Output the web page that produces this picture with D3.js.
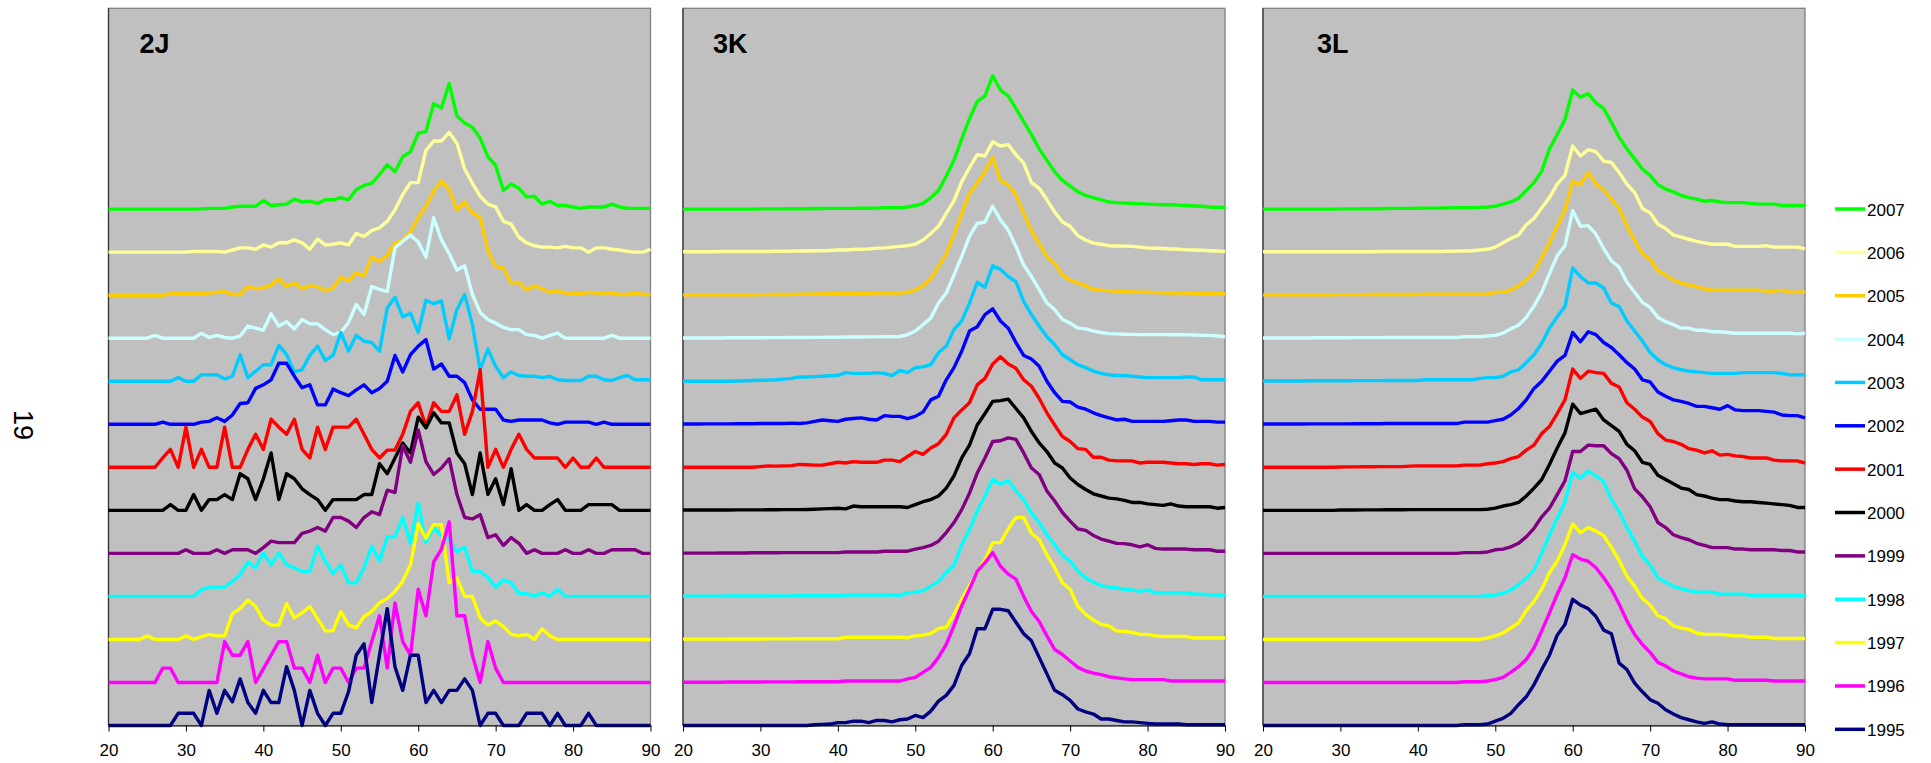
<!DOCTYPE html>
<html><head><meta charset="utf-8">
<script src="https://cdn.jsdelivr.net/npm/d3@7"></script>
<style>
html,body{margin:0;padding:0;background:#fff;}
svg{display:block;font-family:"Liberation Sans",Arial,sans-serif;}
</style></head>
<body><svg id="chart" width="1931" height="763"></svg>
<script>
const lengths = [20,21,22,23,24,25,26,27,28,29,30,31,32,33,34,35,36,37,38,39,40,41,42,43,44,45,46,47,48,49,50,51,52,53,54,55,56,57,58,59,60,61,62,63,64,65,66,67,68,69,70,71,72,73,74,75,76,77,78,79,80,81,82,83,84,85,86,87,88,89,90];
const years = [2007,2006,2005,2004,2003,2002,2001,2000,1999,1998,1997,1996,1995];
const colors = ["#00FF00","#FFFF99","#FFCC00","#CCFFFF","#00CCFF","#0000FF","#FF0000","#000000","#800080","#00FFFF","#FFFF00","#FF00FF","#000080"];
const panelNames = ["2J","3K","3L"];
const xTicks = [20,30,40,50,60,70,80,90];
const pageLabel = "19";

// Panel 2J: one row per year, 2007 first ... 1995 last (values at lengths 20..90)
const series2J = [
[0,0,0,0,0,0,0,0,0,0,0,0,0.02,0.05,0.05,0.05,0.15,0.2,0.2,0.2,0.6,0.25,0.3,0.35,0.7,0.5,0.55,0.4,0.65,0.65,0.8,0.65,1.35,1.65,1.8,2.4,3.1,2.6,3.65,4.0,5.3,5.4,7.35,7.05,8.75,6.5,6.0,5.7,4.95,3.65,3.05,1.3,1.75,1.45,0.85,0.9,0.35,0.55,0.25,0.25,0.15,0.05,0.15,0.15,0.15,0.35,0.15,0.05,0.05,0.05,0.05],
[0,0,0,0,0,0,0,0,0,0,0,0.05,0.05,0.05,0.05,0,0.15,0.3,0.3,0.2,0.5,0.35,0.65,0.65,0.85,0.65,0.2,0.9,0.5,0.55,0.65,0.5,1.3,1.1,1.5,1.7,2.15,2.95,4.0,4.85,4.85,7.1,7.75,7.75,8.35,7.6,5.8,4.8,3.9,3.35,3.15,2.15,1.95,1.05,0.65,0.45,0.35,0.35,0.3,0.4,0.3,0.3,0,0.3,0.3,0.2,0.15,0.05,0,0,0.2],
[0,0,0,0,0,0,0,0,0.1,0.1,0.1,0.1,0.1,0.15,0.2,0.25,0.05,0.05,0.6,0.45,0.5,0.7,1.15,0.6,0.85,0.45,0.65,0.6,0.3,0.5,1.25,1.0,1.55,1.35,2.65,2.35,2.75,3.65,3.8,4.4,5.4,6.2,7.25,7.95,7.35,5.95,6.5,5.75,5.4,3.1,2.0,1.9,0.85,0.9,0.35,0.65,0.45,0.2,0.3,0.15,0.15,0.1,0.2,0.15,0.15,0.15,0.05,0.05,0.15,0.05,0.05],
[0,0,0,0,0,0,0.2,0,0,0,0,0,0.35,0.05,0.2,0.05,0,0.15,0.85,0.7,0.55,1.7,0.85,1.15,0.65,1.3,1.0,1.0,0.6,0.25,0.4,1.1,2.35,1.65,3.6,3.4,3.25,6.3,6.75,7.2,6.7,5.65,8.4,6.85,5.9,4.75,5.05,3.05,1.8,1.3,1.05,0.75,0.6,0.6,0.25,0.2,0,0.2,0.35,0,0,0,0,0,0,0.2,0,0,0,0,0],
[0,0,0,0,0,0,0,0,0,0.25,0,0,0.45,0.45,0.45,0.15,0.35,1.85,0.25,0.7,1.15,1.15,2.5,1.85,0.65,0.8,1.8,2.45,1.45,1.8,3.4,2.1,3.2,2.8,2.7,2.1,5.1,5.85,4.5,4.75,3.4,5.65,5.4,5.6,2.95,5.0,6.05,3.95,0.8,2.25,1.05,0.25,0.65,0.4,0.35,0.35,0.25,0.35,0.1,0.05,0.05,0.05,0.35,0.35,0.1,0.05,0.25,0.4,0.1,0.1,0.1],
[0,0,0,0,0,0,0,0.15,0,0,0,0,0.15,0.2,0.45,0.2,0.65,1.45,1.5,2.5,2.75,3.1,4.25,4.25,3.35,2.55,2.75,1.35,1.35,2.45,2.2,2.0,2.4,2.75,2.2,2.5,3.0,4.8,3.65,4.85,5.45,5.9,3.85,4.2,3.35,3.35,2.9,1.7,1.05,1.05,1.05,0.3,0.2,0.3,0.3,0.3,0.3,0.1,0,0.15,0.15,0.15,0.15,0,0.15,0,0,0,0,0,0],
[0,0,0,0,0,0,0,0.65,1.25,0,2.8,0,1.25,0,0,2.8,0,0,1.25,2.3,1.25,3.35,2.8,2.3,3.35,1.25,0.65,2.8,1.25,2.8,2.8,2.8,3.35,2.3,1.25,0.65,1.2,1.2,2.3,3.9,4.5,2.85,4.5,3.9,3.9,5.05,2.3,3.9,6.8,0,1.25,0,1.25,2.3,1.25,0.65,0.65,0.65,0.65,0,0.65,0,0,0.65,0,0,0,0,0,0,0],
[0,0,0,0,0,0,0,0,0.4,0,0,1.1,0,0.75,0.75,1.1,0.75,2.55,2.2,0.75,2.2,4.0,0.75,2.55,2.2,1.5,1.1,0.75,0,0.75,0.75,0.75,0.75,1.1,1.1,3.25,2.55,3.65,4.7,4.0,6.5,5.75,6.8,6.1,6.1,4.0,3.25,1.1,4.0,1.1,2.2,0.4,2.9,0,0.4,0,0,0.4,0.75,0,0,0,0.4,0.4,0.4,0.4,0,0,0,0,0],
[0,0,0,0,0,0,0,0,0,0,0.25,0,0,0,0.25,0,0.25,0.25,0.25,0,0.4,0.85,0.75,0.75,0.75,1.4,1.55,1.8,1.55,2.5,2.5,2.25,1.8,2.5,2.9,2.7,4.4,4.25,7.5,6.35,8.6,6.4,5.5,5.95,6.6,4.1,2.5,2.4,2.7,1.1,1.3,0.55,1.1,0.7,0,0.25,0,0,0,0.25,0,0,0.25,0,0,0.25,0.25,0.25,0.25,0,0],
[0,0,0,0,0,0,0,0,0,0,0,0,0.45,0.65,0.65,0.65,1.05,1.5,2.4,2.0,3.05,2.2,3.05,2.2,2.0,1.75,1.75,3.5,2.45,1.6,2.2,0.95,0.95,2.0,3.5,2.45,4.15,4.15,5.5,3.7,6.5,3.75,4.8,4.25,4.0,3.1,3.45,1.75,1.75,1.3,0.65,1.15,0.95,0.2,0.2,0,0.25,0,0.5,0,0,0,0,0,0,0,0,0,0,0,0],
[0,0,0,0,0,0.25,0,0,0,0,0.25,0,0.2,0.35,0.25,0.25,1.8,2.15,2.75,2.3,1.35,1.0,1.0,2.5,1.5,1.85,2.3,1.45,0.6,0.6,1.95,1.0,0.8,1.6,1.95,2.55,2.85,3.35,4.05,5.2,8.05,7.05,8.0,8.0,3.95,4.3,3.0,3.0,1.5,1.0,1.3,0.9,0.35,0.25,0.35,0,0.75,0.25,0,0,0,0,0,0,0,0,0,0,0,0,0],
[0,0,0,0,0,0,0,1.0,1.0,0,0,0,0,0,0,2.85,1.9,1.9,2.85,0,0.95,1.9,2.85,2.85,1.0,1.0,0,1.9,0,1.0,1.0,0,1.0,1.0,2.85,4.65,1.0,5.55,2.85,1.9,6.5,4.65,8.4,9.3,11.2,4.65,4.65,1.9,0,2.85,1.0,0,0,0,0,0,0,0,0,0,0,0,0,0,0,0,0,0,0,0,0],
[0,0,0,0,0,0,0,0,0,0.85,0.85,0.85,0,2.45,0.85,2.45,1.65,3.25,1.6,0.85,2.45,1.6,1.6,4.1,2.45,0,2.45,0.85,0,0.85,0.85,2.35,4.9,5.7,1.6,4.9,8.15,4.1,2.45,4.9,4.9,1.6,2.45,1.6,2.45,2.45,3.25,2.45,0,0.85,0.85,0,0,0,0.85,0.85,0.85,0,0.85,0,0,0,0.85,0,0,0,0,0,0,0,0]
];

// Panel 3K
const series3K = [
[0,0,0,0,0,0,0,0,0,0,0.02,0.02,0.02,0.02,0.03,0.03,0.03,0.04,0.04,0.05,0.05,0.05,0.05,0.06,0.06,0.07,0.1,0.1,0.1,0.15,0.25,0.4,0.8,1.3,2.3,3.4,4.9,6.3,7.5,7.9,9.3,8.3,7.9,7.0,6.1,5.2,4.2,3.4,2.6,2.0,1.6,1.2,0.95,0.8,0.65,0.5,0.45,0.42,0.4,0.38,0.35,0.33,0.3,0.3,0.28,0.25,0.22,0.2,0.15,0.12,0.12],
[0.03,0.03,0.03,0.03,0.03,0.04,0.04,0.04,0.05,0.05,0.05,0.05,0.06,0.06,0.07,0.08,0.08,0.1,0.1,0.12,0.15,0.15,0.18,0.2,0.22,0.28,0.3,0.35,0.4,0.45,0.55,0.85,1.3,1.8,2.7,3.6,4.9,5.9,6.8,6.7,7.7,7.4,7.5,6.8,6.2,4.85,4.45,3.65,2.8,2.1,1.8,1.15,0.85,0.63,0.55,0.45,0.43,0.42,0.4,0.35,0.28,0.27,0.25,0.22,0.2,0.16,0.15,0.13,0.1,0.08,0.05],
[0.02,0.02,0.02,0.02,0.02,0.03,0.03,0.03,0.03,0.03,0.04,0.04,0.05,0.05,0.05,0.06,0.07,0.08,0.08,0.1,0.1,0.12,0.12,0.12,0.13,0.15,0.15,0.15,0.15,0.2,0.35,0.65,1.15,2.0,2.9,4.2,5.7,7.1,7.8,8.6,9.6,8.0,7.7,7.0,5.7,4.5,3.6,2.7,2.2,1.4,1.05,0.85,0.65,0.4,0.35,0.3,0.28,0.25,0.22,0.2,0.2,0.18,0.17,0.15,0.15,0.14,0.13,0.12,0.12,0.1,0.1],
[0.02,0.02,0.02,0.02,0.02,0.02,0.03,0.03,0.03,0.03,0.03,0.04,0.04,0.04,0.05,0.05,0.05,0.06,0.06,0.07,0.07,0.08,0.08,0.08,0.09,0.09,0.1,0.1,0.12,0.25,0.5,0.95,1.4,2.45,3.15,4.4,5.7,7.1,8.0,8.1,9.2,8.25,7.55,6.4,5.1,4.3,3.4,2.45,2.0,1.3,1.05,0.7,0.65,0.5,0.4,0.32,0.3,0.28,0.27,0.25,0.25,0.25,0.25,0.24,0.24,0.25,0.22,0.2,0.2,0.15,0.1],
[0,0,0,0,0,0,0,0.02,0.03,0.05,0.07,0.08,0.1,0.15,0.2,0.3,0.3,0.32,0.35,0.38,0.4,0.6,0.55,0.55,0.55,0.6,0.55,0.4,0.75,0.6,0.95,1.0,1.15,2.0,2.45,3.6,4.2,5.45,6.9,6.55,8.05,7.8,7.3,6.95,5.55,4.65,3.85,3.1,2.55,1.85,1.5,1.15,0.95,0.7,0.55,0.45,0.4,0.4,0.35,0.3,0.25,0.25,0.25,0.25,0.25,0.3,0.3,0.1,0.1,0.1,0.1],
[0.02,0.02,0.02,0.03,0.03,0.03,0.03,0.04,0.04,0.04,0.05,0.05,0.05,0.05,0.08,0.05,0.1,0.2,0.3,0.25,0.2,0.35,0.4,0.45,0.35,0.3,0.6,0.55,0.55,0.4,0.55,0.85,1.7,1.95,3.1,3.95,5.1,6.5,6.8,7.65,8.05,7.2,6.7,5.7,4.8,4.55,4.05,3.0,2.2,1.6,1.55,1.2,1.05,0.8,0.6,0.45,0.3,0.35,0.2,0.2,0.2,0.2,0.2,0.25,0.3,0.3,0.2,0.2,0.2,0.15,0.15],
[0,0,0,0,0,0,0,0,0,0,0.05,0.1,0.08,0.1,0.12,0.2,0.18,0.15,0.15,0.25,0.35,0.3,0.4,0.35,0.35,0.35,0.5,0.5,0.4,0.75,1.1,0.9,1.35,1.65,2.3,3.45,4.0,4.5,5.75,6.2,7.2,7.7,7.2,6.9,6.1,5.65,4.8,3.8,2.95,2.15,1.8,1.3,1.25,0.7,0.7,0.5,0.45,0.45,0.45,0.3,0.35,0.35,0.35,0.3,0.25,0.25,0.2,0.25,0.25,0.15,0.2],
[0.02,0.02,0.02,0.02,0.02,0.02,0.02,0.03,0.03,0.03,0.03,0.04,0.04,0.05,0.05,0.05,0.06,0.08,0.1,0.12,0.15,0.1,0.3,0.25,0.25,0.25,0.25,0.25,0.25,0.2,0.4,0.6,0.75,1.0,1.55,2.4,3.65,4.55,5.95,6.75,7.6,7.65,7.75,7.1,6.45,5.5,4.7,4.1,3.3,2.95,2.25,1.8,1.45,1.15,1.0,0.85,0.8,0.7,0.55,0.55,0.45,0.4,0.35,0.45,0.3,0.25,0.25,0.25,0.25,0.15,0.2],
[0.02,0.02,0.02,0.02,0.02,0.03,0.03,0.03,0.03,0.04,0.04,0.04,0.04,0.05,0.05,0.05,0.05,0.05,0.05,0.05,0.05,0.1,0.1,0.1,0.1,0.1,0.15,0.15,0.15,0.15,0.3,0.4,0.55,0.85,1.45,2.15,3.05,4.2,5.6,6.65,7.8,7.85,8.05,7.95,7.0,5.95,5.5,4.35,3.65,2.85,2.25,1.7,1.6,1.25,1.0,0.85,0.7,0.68,0.6,0.45,0.6,0.35,0.3,0.3,0.3,0.3,0.25,0.25,0.25,0.15,0.15],
[0.02,0.02,0.02,0.02,0.02,0.02,0.03,0.03,0.03,0.03,0.03,0.04,0.04,0.04,0.04,0.05,0.05,0.05,0.05,0.05,0.05,0.1,0.1,0.1,0.1,0.1,0.1,0.1,0.08,0.25,0.3,0.4,0.7,1.05,1.65,2.2,3.6,4.65,5.95,7.0,8.15,7.8,8.1,7.35,6.75,5.8,5.15,4.3,3.6,2.85,2.45,1.75,1.3,1.0,0.75,0.65,0.6,0.5,0.45,0.35,0.45,0.25,0.25,0.25,0.25,0.25,0.15,0.15,0.12,0.1,0.1],
[0.02,0.02,0.02,0.02,0.02,0.02,0.03,0.03,0.03,0.03,0.03,0.04,0.04,0.04,0.04,0.05,0.05,0.05,0.05,0.05,0.05,0.15,0.15,0.15,0.15,0.15,0.15,0.15,0.15,0.12,0.25,0.3,0.4,0.75,0.85,1.75,2.8,3.75,4.65,5.55,6.75,6.75,7.7,8.5,8.5,7.4,6.95,5.9,5.0,3.95,3.5,2.3,1.75,1.35,1.05,0.95,0.6,0.55,0.5,0.35,0.35,0.25,0.2,0.2,0.2,0.2,0.1,0.1,0.1,0.1,0.1],
[0.02,0.02,0.02,0.02,0.02,0.02,0.03,0.03,0.03,0.03,0.03,0.04,0.04,0.04,0.04,0.05,0.05,0.05,0.05,0.05,0.05,0.1,0.1,0.1,0.1,0.1,0.1,0.1,0.1,0.25,0.35,0.7,1.05,1.75,2.65,3.95,5.35,6.5,7.75,8.35,9.05,8.1,7.55,7.2,6.0,4.95,4.25,3.25,2.3,1.95,1.5,1.05,0.8,0.65,0.55,0.4,0.32,0.25,0.2,0.2,0.2,0.2,0.2,0.1,0.1,0.1,0.1,0.1,0.1,0.1,0.1],
[0,0,0,0,0,0,0,0,0,0,0,0,0,0,0,0,0,0.05,0.08,0.1,0.2,0.2,0.3,0.3,0.2,0.35,0.35,0.25,0.4,0.45,0.7,0.55,1.0,1.7,2.1,2.8,4.2,5.0,6.75,6.75,8.1,8.1,8.0,7.2,6.4,5.9,4.75,3.6,2.45,2.15,1.75,1.15,0.95,0.8,0.45,0.45,0.35,0.25,0.25,0.2,0.15,0.1,0.1,0.1,0.1,0.05,0.05,0.05,0.05,0.05,0.05]
];

// Panel 3L
const series3L = [
[0,0,0,0,0,0,0,0,0,0,0.02,0.02,0.02,0.03,0.03,0.03,0.04,0.05,0.05,0.05,0.06,0.07,0.07,0.08,0.08,0.1,0.1,0.1,0.12,0.15,0.2,0.35,0.5,0.75,1.3,1.85,2.65,4.2,5.2,6.25,8.3,7.8,8.05,7.4,7.0,6.05,5.0,4.2,3.5,2.8,2.35,1.7,1.4,1.2,0.95,0.8,0.7,0.55,0.6,0.5,0.45,0.45,0.45,0.4,0.35,0.35,0.35,0.25,0.25,0.25,0.25],
[0.03,0.03,0.03,0.03,0.03,0.03,0.03,0.03,0.03,0.03,0.03,0.03,0.03,0.03,0.03,0.04,0.04,0.04,0.04,0.05,0.05,0.05,0.05,0.05,0.06,0.07,0.08,0.1,0.15,0.2,0.35,0.65,0.95,1.2,1.9,2.35,3.1,3.8,4.75,5.35,7.4,6.7,7.15,7.0,6.35,6.25,5.55,4.75,4.15,3.05,2.75,1.95,1.65,1.2,1.05,0.9,0.75,0.65,0.55,0.55,0.55,0.4,0.4,0.4,0.4,0.45,0.35,0.35,0.35,0.35,0.25],
[0.02,0.02,0.02,0.02,0.02,0.03,0.03,0.03,0.03,0.03,0.04,0.04,0.04,0.04,0.05,0.05,0.05,0.05,0.05,0.05,0.05,0.07,0.07,0.07,0.07,0.07,0.07,0.07,0.07,0.07,0.2,0.2,0.35,0.65,1.05,1.6,2.6,3.65,4.8,5.95,7.95,7.7,8.55,7.75,7.35,6.7,6.05,4.85,3.8,2.9,2.5,1.7,1.4,1.05,0.85,0.7,0.6,0.45,0.35,0.35,0.35,0.35,0.35,0.35,0.35,0.28,0.28,0.35,0.2,0.2,0.2],
[0.02,0.02,0.02,0.02,0.02,0.02,0.02,0.03,0.03,0.03,0.03,0.03,0.04,0.04,0.04,0.04,0.05,0.05,0.05,0.05,0.05,0.05,0.05,0.05,0.05,0.05,0.1,0.1,0.1,0.15,0.2,0.35,0.65,0.9,1.45,2.25,3.2,4.5,5.75,6.45,8.9,7.8,7.85,7.25,6.25,5.4,4.95,3.9,3.2,2.5,2.15,1.45,1.15,0.95,0.7,0.7,0.55,0.55,0.45,0.45,0.4,0.35,0.35,0.35,0.35,0.35,0.35,0.35,0.35,0.3,0.35],
[0.02,0.02,0.02,0.02,0.02,0.02,0.03,0.03,0.03,0.03,0.03,0.03,0.04,0.04,0.04,0.04,0.05,0.05,0.05,0.05,0.05,0.1,0.1,0.1,0.1,0.1,0.1,0.1,0.2,0.25,0.25,0.35,0.65,0.8,1.3,1.85,2.65,3.7,4.5,5.2,7.9,7.3,6.85,6.85,6.5,5.45,5.2,4.2,3.5,2.8,2.0,1.5,1.15,0.95,0.8,0.7,0.65,0.6,0.55,0.55,0.55,0.55,0.6,0.6,0.6,0.6,0.6,0.55,0.45,0.45,0.45],
[0.02,0.02,0.02,0.02,0.02,0.02,0.03,0.03,0.03,0.03,0.03,0.03,0.04,0.04,0.04,0.04,0.05,0.05,0.05,0.05,0.05,0.05,0.05,0.05,0.05,0.05,0.15,0.15,0.15,0.15,0.25,0.35,0.65,1.1,1.7,2.5,3.0,3.7,4.4,4.8,6.4,5.75,6.45,6.25,5.7,5.35,4.85,4.3,3.85,3.1,2.95,2.25,1.95,1.7,1.6,1.45,1.25,1.25,1.15,1.05,1.3,1.0,0.95,0.95,0.95,0.9,0.85,0.65,0.6,0.6,0.45],
[0,0,0,0,0,0,0,0,0,0,0.02,0.03,0.03,0.04,0.04,0.05,0.05,0.05,0.05,0.08,0.1,0.1,0.1,0.1,0.1,0.1,0.15,0.15,0.15,0.25,0.3,0.4,0.6,0.75,1.2,1.55,2.35,2.85,3.75,4.7,6.85,6.2,6.7,6.6,6.55,5.85,5.6,4.5,4.05,3.5,3.2,2.35,1.9,1.8,1.6,1.3,1.2,1.0,1.15,0.85,0.9,0.8,0.75,0.65,0.65,0.65,0.5,0.45,0.45,0.45,0.3],
[0,0,0,0,0,0,0,0,0,0,0.02,0.02,0.02,0.03,0.03,0.03,0.04,0.04,0.04,0.05,0.05,0.05,0.05,0.05,0.05,0.05,0.05,0.05,0.05,0.08,0.15,0.3,0.4,0.55,1.0,1.55,2.15,3.2,4.35,5.4,7.4,6.75,6.9,7.05,6.3,5.9,5.5,4.6,4.15,3.35,3.2,2.45,2.15,1.85,1.55,1.45,1.1,1.0,0.85,0.75,0.75,0.65,0.6,0.6,0.55,0.5,0.45,0.4,0.35,0.2,0.2],
[0,0,0,0,0,0,0,0,0,0,0,0,0,0,0,0,0,0,0,0,0,0,0,0,0,0,0.05,0.05,0.05,0.1,0.25,0.3,0.45,0.7,1.15,1.75,2.55,3.15,4.1,5.05,7.1,7.1,7.55,7.5,7.5,6.95,6.6,5.8,4.5,3.95,3.25,2.15,1.8,1.3,1.1,0.95,0.7,0.55,0.4,0.4,0.4,0.3,0.3,0.25,0.25,0.25,0.25,0.2,0.2,0.1,0.1],
[0,0,0,0,0,0,0,0,0,0,0,0,0,0,0,0,0,0,0,0,0,0,0,0,0,0,0,0,0,0.05,0.1,0.2,0.45,0.8,1.25,1.85,3.0,4.3,5.45,6.6,8.65,8.25,8.75,8.4,8.0,6.75,5.9,4.8,3.85,2.8,2.2,1.3,1.0,0.7,0.55,0.4,0.3,0.3,0.3,0.15,0.15,0.15,0.15,0.08,0.08,0.08,0.08,0.08,0.08,0.08,0.08],
[0,0,0,0,0,0,0,0,0,0,0,0,0,0,0,0,0,0,0,0,0,0,0,0,0,0,0,0,0,0.1,0.25,0.45,0.8,1.15,2.0,2.65,3.5,4.65,5.45,6.6,8.05,7.45,7.8,7.55,7.25,6.4,5.5,4.4,3.7,2.85,2.4,1.65,1.45,0.95,0.8,0.7,0.45,0.35,0.35,0.35,0.3,0.25,0.25,0.15,0.15,0.15,0.07,0.07,0.07,0.07,0.07],
[0,0,0,0,0,0,0,0,0,0,0,0,0,0,0,0,0,0,0,0,0,0,0,0,0,0,0.05,0.05,0.05,0.1,0.2,0.35,0.7,1.1,1.6,2.4,3.6,4.85,6.15,7.3,8.9,8.6,8.45,8.0,7.3,6.5,5.45,4.3,3.35,2.65,2.1,1.4,1.15,0.8,0.6,0.4,0.3,0.25,0.25,0.25,0.25,0.15,0.15,0.15,0.15,0.15,0.1,0.1,0.1,0.1,0.1],
[0,0,0,0,0,0,0,0,0,0,0,0,0,0,0,0,0,0,0,0,0,0,0,0,0,0,0.05,0.05,0.05,0.1,0.3,0.5,0.85,1.45,2.0,2.85,3.9,4.9,6.3,7.05,8.8,8.4,8.15,7.6,6.65,6.4,4.35,3.9,2.95,2.35,1.8,1.55,1.1,0.8,0.55,0.4,0.25,0.15,0.25,0.1,0.05,0.05,0.05,0.05,0.05,0.05,0.05,0.05,0.05,0.05,0.05]
];

const panelSeries = [series2J, series3K, series3L];

// ---- layout ----
const svg = d3.select("#chart");
const plotTop = 8.3, plotBottom = 725.5, plotW = 542;
const panelX = [108.5, 683, 1263];
const labelDx = [31, 30, 54];
const yearStep = 3;               // vertical offset (in value units) between years
const yMax = 50;

const y = d3.scaleLinear().domain([0, yMax]).range([plotBottom, plotTop]);

panelSeries.forEach((rows, p) => {
  const x0 = panelX[p];
  const x = d3.scaleLinear().domain([20, 90]).range([x0, x0 + plotW]);
  const g = svg.append("g");

  g.append("rect").attr("x", x0).attr("y", plotTop)
    .attr("width", plotW).attr("height", plotBottom - plotTop)
    .attr("fill", "#C0C0C0").attr("stroke", "#808080").attr("stroke-width", 1.3);
  g.append("line").attr("x1", x0).attr("x2", x0).attr("y1", plotTop).attr("y2", plotBottom)
    .attr("stroke", "#333").attr("stroke-width", 1.2);

  g.append("text").attr("x", x0 + labelDx[p]).attr("y", 52.5)
    .attr("font-size", 27).attr("font-weight", "bold").attr("fill", "#000")
    .text(panelNames[p]);

  const n = rows.length;
  rows.forEach((vals, k) => {
    const offset = (n - 1 - k) * yearStep;
    const line = d3.line()
      .x((d, i) => x(lengths[i]))
      .y(d => y(d + offset));
    g.append("path").datum(vals)
      .attr("d", line)
      .attr("fill", "none")
      .attr("stroke", colors[k])
      .attr("stroke-width", 3.4)
      .attr("stroke-linejoin", "round")
      .attr("stroke-linecap", "butt");
  });

  const axis = d3.axisBottom(x).tickValues(xTicks).tickSize(6).tickPadding(12).tickSizeOuter(0);
  const ax = g.append("g").attr("transform", `translate(0,${plotBottom})`).call(axis);
  ax.select(".domain").attr("stroke", "#000").attr("stroke-width", 1);
  ax.selectAll(".tick line").attr("stroke", "#000");
  ax.selectAll(".tick text").attr("font-size", 17).attr("fill", "#000")
    .attr("font-family", "'Liberation Sans', Arial, sans-serif");
});

// legend
const leg = svg.append("g");
years.forEach((yr, k) => {
  const ly = 209 + k * 43.36;
  leg.append("line").attr("x1", 1835).attr("x2", 1865).attr("y1", ly).attr("y2", ly)
    .attr("stroke", colors[k]).attr("stroke-width", 3.5);
  leg.append("text").attr("x", 1867).attr("y", ly + 6.5)
    .attr("font-size", 17).attr("fill", "#000").text(yr);
});

// page number
svg.append("text").attr("transform", "translate(23,425) rotate(90)")
  .attr("text-anchor", "middle").attr("dominant-baseline", "central")
  .attr("font-size", 27).attr("fill", "#000").text(pageLabel);
</script>
</body></html>
